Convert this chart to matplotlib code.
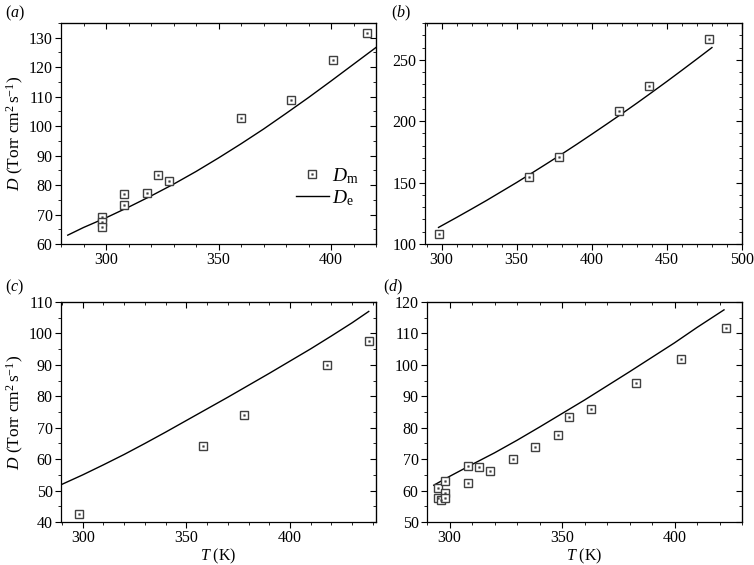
import matplotlib
matplotlib.use("Agg")
import matplotlib.pyplot as plt
from matplotlib.ticker import MultipleLocator
from matplotlib.legend_handler import HandlerTuple

plt.rcParams['font.family'] = ['Liberation Serif', 'DejaVu Serif']
plt.rcParams['mathtext.fontset'] = 'custom'
plt.rcParams['mathtext.rm'] = 'Liberation Serif'
plt.rcParams['mathtext.it'] = 'Liberation Serif:italic'
plt.rcParams['font.size'] = 11

# ---- data ----
# panel (a)
a_T = [298, 298, 298, 308, 308, 318, 323, 328, 360, 382, 401, 416]
a_D = [69.3, 67.4, 65.6, 76.9, 73.1, 77.2, 83.3, 81.3, 102.8, 108.8, 122.5, 131.5]
a_lineT = [283, 290, 300, 310, 320, 330, 340, 350, 360, 370, 380, 390, 400, 410, 420]
a_lineD = [63.0, 65.6, 68.9, 72.5, 76.3, 80.3, 84.6, 89.2, 94.0, 99.0, 104.3, 109.7, 115.3, 121.0, 126.7]

# panel (b)
b_T = [298, 358, 378, 418, 438, 478]
b_D = [107.9, 154.9, 171.2, 208.4, 228.5, 267.1]
b_lineT = [298, 310, 320, 330, 340, 350, 360, 370, 380, 390, 400, 410, 420, 430, 440, 450, 460, 470, 480]
b_lineD = [113.5, 121.6, 128.5, 135.5, 142.8, 150.1, 157.7, 165.4, 173.2, 181.2, 189.4, 197.7,
           206.1, 214.7, 223.5, 232.4, 241.5, 250.7, 260.0]

# panel (c)
c_T = [298, 358, 378, 418, 438]
c_D = [42.6, 64.1, 74.2, 89.9, 97.5]
c_lineT = [290, 300, 310, 320, 330, 340, 350, 360, 370, 380, 390, 400, 410, 420, 430, 438]
c_lineD = [52.0, 55.0, 58.2, 61.5, 65.0, 68.6, 72.3, 76.0, 79.7, 83.5, 87.3, 91.2, 95.1, 99.2, 103.4, 107.0]

# panel (d)
d_T = [295, 295, 296, 298, 298, 298, 308, 308, 313, 318, 328, 338, 348, 353, 363, 383, 403, 423]
d_D = [60.7, 57.5, 57.1, 59.1, 57.5, 62.9, 67.9, 62.5, 67.4, 66.1, 69.9, 73.8, 77.7, 83.5, 85.8, 94.1, 101.9, 111.7]
d_lineT = [293, 300, 310, 320, 330, 340, 350, 360, 370, 380, 390, 400, 410, 422]
d_lineD = [61.7, 64.5, 68.3, 72.0, 76.0, 80.2, 84.5, 88.8, 93.3, 97.8, 102.4, 107.0, 111.9, 117.5]

panel_labels = ['a', 'b', 'c', 'd']
ylabel_text = r'$D$ (Torr cm$^2\,$s$^{-1}$)'
xlabel_text = r'$T$ (K)'

fig = plt.figure(figsize=(7.54, 5.65), dpi=100)

W, H = 754, 565
def rect(l, r, t, b):
    return [l / W, 1 - b / H, (r - l) / W, (b - t) / H]

specs = [
    dict(rect=rect(61, 376, 23, 244), T=a_T, D=a_D, lT=a_lineT, lD=a_lineD,
         xlim=(280, 420), ylim=(60, 135), xmaj=50, xmin=10, ymaj=10, ymin=5,
         ylabel=True, xlabel=False, legend=True, lab=(5, 13)),
    dict(rect=rect(425, 742, 23, 244), T=b_T, D=b_D, lT=b_lineT, lD=b_lineD,
         xlim=(289, 500), ylim=(100, 280), xmaj=50, xmin=10, ymaj=50, ymin=10,
         ylabel=False, xlabel=False, legend=False, lab=(391, 13)),
    dict(rect=rect(61, 376, 302, 522), T=c_T, D=c_D, lT=c_lineT, lD=c_lineD,
         xlim=(289.5, 441.5), ylim=(40, 110), xmaj=50, xmin=10, ymaj=10, ymin=5,
         ylabel=True, xlabel=True, legend=False, lab=(5, 287)),
    dict(rect=rect(427, 742, 302, 522), T=d_T, D=d_D, lT=d_lineT, lD=d_lineD,
         xlim=(290, 430), ylim=(50, 120), xmaj=50, xmin=10, ymaj=10, ymin=5,
         ylabel=False, xlabel=True, legend=False, lab=(383, 287)),
]

mcol = '#404040'
for lab, s in zip(panel_labels, specs):
    ax = fig.add_axes(s['rect'])
    ln, = ax.plot(s['lT'], s['lD'], color='black', lw=1.0, zorder=2)
    sq, = ax.plot(s['T'], s['D'], ls='none', marker='s', ms=5.6, mfc='white',
                  mec=mcol, mew=1.0, zorder=3)
    dt, = ax.plot(s['T'], s['D'], ls='none', marker='s', ms=1.2, mfc=mcol,
                  mec=mcol, mew=0.3, zorder=4)
    ax.set_xlim(*s['xlim'])
    ax.set_ylim(*s['ylim'])
    ax.xaxis.set_major_locator(MultipleLocator(s['xmaj']))
    ax.xaxis.set_minor_locator(MultipleLocator(s['xmin']))
    ax.yaxis.set_major_locator(MultipleLocator(s['ymaj']))
    ax.yaxis.set_minor_locator(MultipleLocator(s['ymin']))
    ax.tick_params(which='major', direction='out', length=4, width=0.8, labelsize=11.5, pad=2)
    ax.tick_params(which='minor', direction='out', length=2, width=0.6)
    for sp in ax.spines.values():
        sp.set_linewidth(0.9)
    secx = ax.secondary_xaxis('top')
    secx.xaxis.set_major_locator(MultipleLocator(s['xmaj']))
    secx.xaxis.set_minor_locator(MultipleLocator(s['xmin']))
    secx.tick_params(which='major', direction='in', length=4, width=0.8, labeltop=False)
    secx.tick_params(which='minor', direction='in', length=2, width=0.6)
    secy = ax.secondary_yaxis('right')
    secy.yaxis.set_major_locator(MultipleLocator(s['ymaj']))
    secy.yaxis.set_minor_locator(MultipleLocator(s['ymin']))
    secy.tick_params(which='major', direction='in', length=4, width=0.8, labelright=False)
    secy.tick_params(which='minor', direction='in', length=2, width=0.6)
    if s['ylabel']:
        ax.set_ylabel(ylabel_text, fontsize=12.5, labelpad=2)
    if s['xlabel']:
        ax.set_xlabel(xlabel_text, fontsize=11.5, labelpad=0)
    if s['legend']:
        ax.legend([(sq, dt), ln], [r'$D_{\mathrm{m}}$', r'$D_{\mathrm{e}}$'],
                  handler_map={tuple: HandlerTuple(ndivide=1, pad=0)},
                  loc='lower right', bbox_to_anchor=(0.945, 0.165), frameon=False, fontsize=14,
                  handlelength=1.7, handletextpad=0.15, labelspacing=0.1,
                  borderaxespad=0.0, borderpad=0.0)
    fig.text(s['lab'][0] / W, 1 - s['lab'][1] / H, r'($\it{' + lab + '}$)',
             fontsize=11.5, ha='left', va='center')

fig.savefig('out.png', dpi=100)
